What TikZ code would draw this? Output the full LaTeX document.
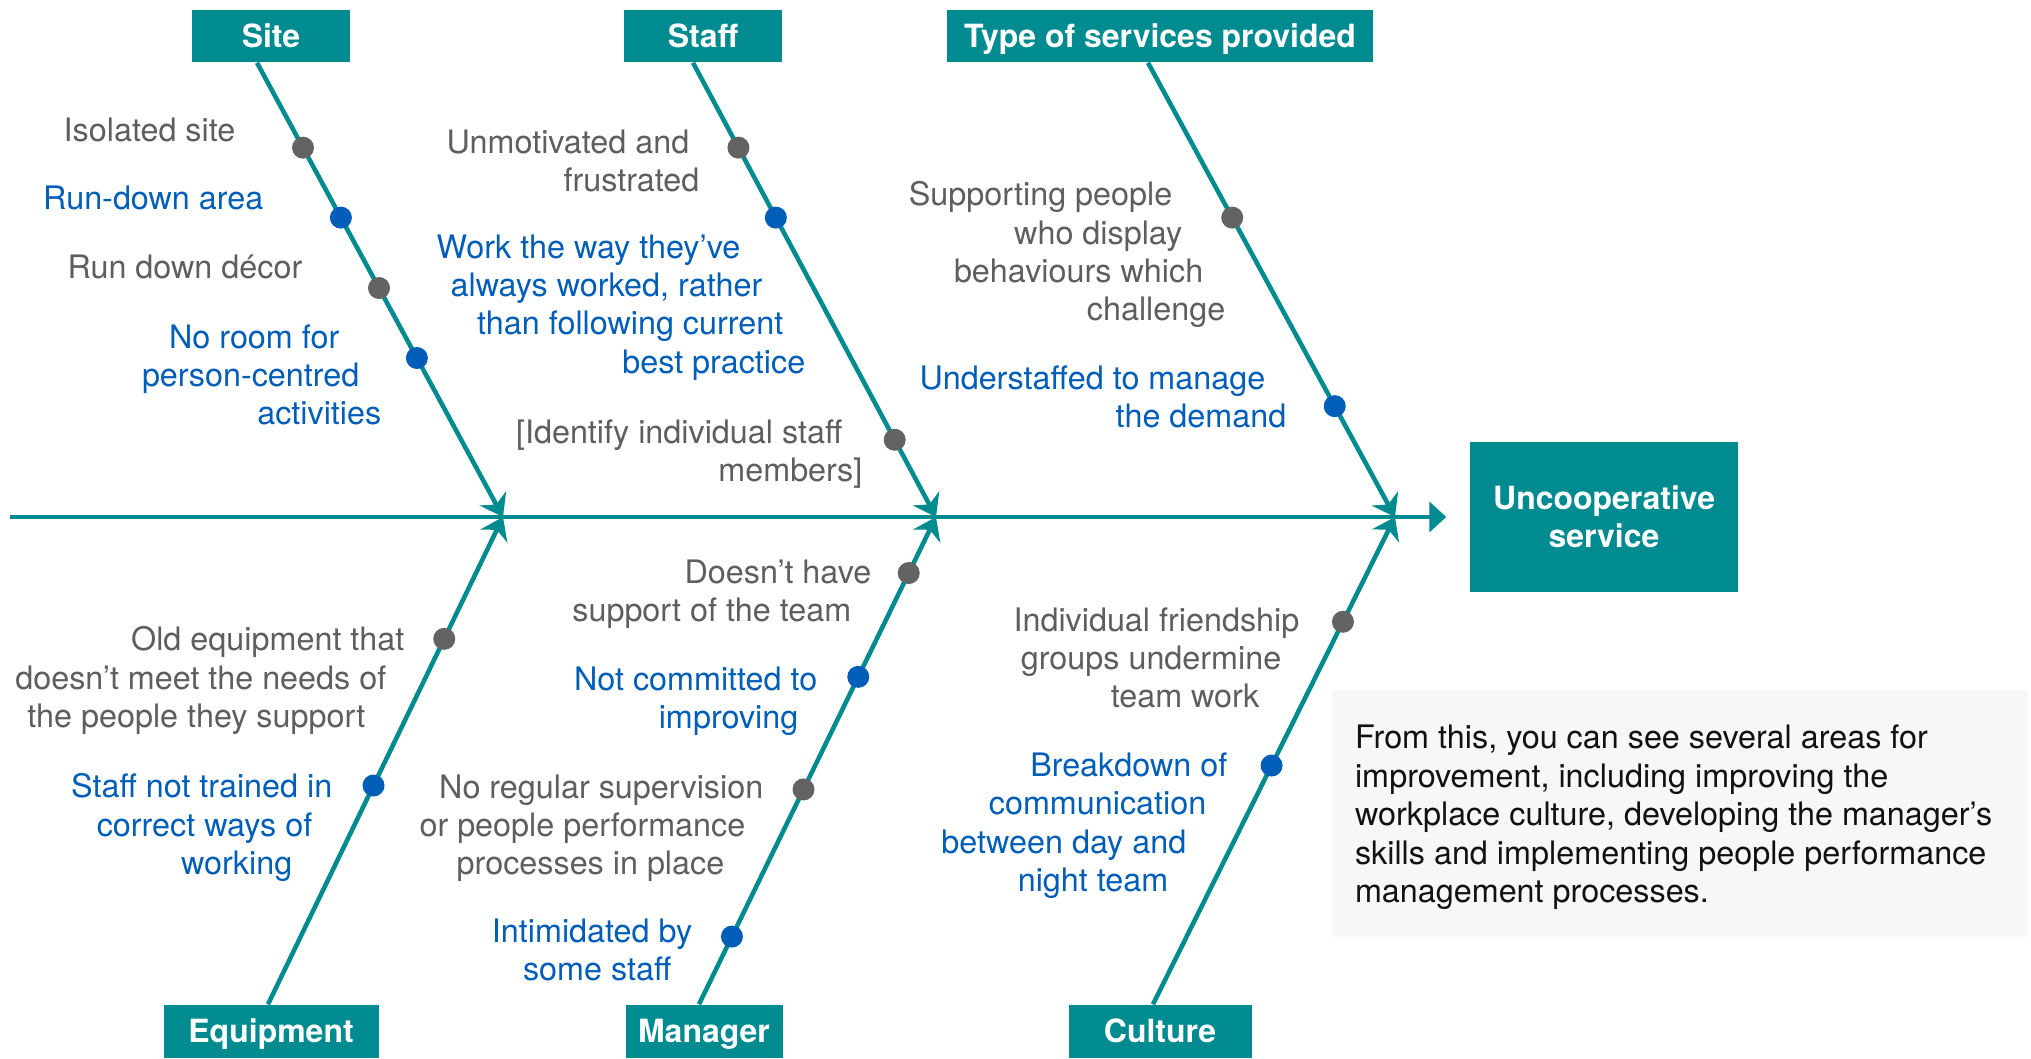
\documentclass[tikz,border=0pt]{standalone}
\usepackage{fontspec}
\setmainfont{TeX Gyre Heros}
\usepackage{tikz}
\usetikzlibrary{arrows.meta,calc}
\definecolor{fishteal}{HTML}{008B90}
\definecolor{causegray}{HTML}{5E5E5E}
\definecolor{causeblue}{HTML}{005EB8}
\definecolor{dotgray}{HTML}{636363}
\definecolor{notefill}{HTML}{F7F7F7}
\definecolor{noteink}{HTML}{111111}

\begin{document}
\begin{tikzpicture}[
  catbox/.style={fill=fishteal,text=white,inner sep=0pt,minimum height=0.52cm,
    font=\fontsize{9.1}{10.9}\selectfont\bfseries},
  cathead/.style={catbox,text height=6.5pt,text depth=0pt},
  bone/.style={fishteal,line width=1.3pt,-{Stealth[length=6pt,width=8.5pt]}},
  cause/.style={align=right,anchor=north east,inner sep=0pt,
    font=\fontsize{9.2}{10.9}\selectfont}
]
  \useasboundingbox (0,0) rectangle (20.31,10.58);
  % categories
  \node[cathead,minimum width=1.58cm] (site) at (2.71,10.22) {Site};
  \node[cathead,minimum width=1.58cm] (staff) at (7.03,10.22) {Staff};
  \node[cathead,minimum width=4.26cm] (type) at (11.60,10.22) {Type of services provided};
  \node[cathead,minimum width=2.15cm,minimum height=0.53cm] (equip) at (2.71,0.265) {Equipment};
  \node[cathead,minimum width=1.57cm,minimum height=0.53cm] (manager) at (7.04,0.265) {Manager};
  \node[cathead,minimum width=1.83cm,minimum height=0.53cm] (culture) at (11.60,0.265) {Culture};
  % effect
  \node[catbox,align=center,minimum width=2.68cm,minimum height=1.50cm] (effect) at (16.04,5.41) {Uncooperative\\service};
  % spine
  \coordinate (tail) at (0.10,5.41);
  \coordinate (j1) at (5.03,5.41);
  \coordinate (j2) at (9.36,5.41);
  \coordinate (j3) at (13.95,5.41);
  \draw[fishteal,line width=1.3pt,-{Triangle[length=0.17cm,width=0.30cm]}] (tail) -- ([xshift=-0.23cm]effect.west);
  % bones
  \coordinate (b1) at ([xshift=-0.14cm]site.south);
  \coordinate (b2) at ([xshift=-0.10cm]staff.south);
  \coordinate (b3) at ([xshift=-0.12cm]type.south);
  \coordinate (b4) at ([xshift=-0.03cm]equip.north);
  \coordinate (b5) at ([xshift=-0.05cm]manager.north);
  \coordinate (b6) at ([xshift=-0.07cm]culture.north);
  \foreach \b/\j in {b1/j1,b2/j2,b3/j3,b4/j1,b5/j2,b6/j3}
    \draw[bone] (\b) -- (\j);
  % dots on the bones
  \foreach \b/\j/\p/\c in {b1/j1/0.187/dotgray, b1/j1/0.341/causeblue, b1/j1/0.496/dotgray, b1/j1/0.650/causeblue,
      b2/j2/0.187/dotgray, b2/j2/0.341/causeblue, b2/j2/0.830/dotgray,
      b3/j3/0.341/dotgray, b3/j3/0.756/causeblue,
      b4/j1/0.449/causeblue, b4/j1/0.750/dotgray,
      b5/j2/0.139/causeblue, b5/j2/0.441/dotgray, b5/j2/0.672/causeblue, b5/j2/0.885/dotgray,
      b6/j3/0.490/causeblue, b6/j3/0.785/dotgray}
    \fill[\c] ($(\b)!\p!(\j)$) circle (0.11);
  % causes
  \foreach \nm/\x/\y/\col/\txt in {
      iso/2.36/9.41/causegray/{Isolated site},
      rundown/2.64/8.73/causeblue/{Run-down area},
      decor/3.03/8.04/causegray/{Run down décor},
      noroom/3.82/7.34/causeblue/{No room for\kern0.42cm\\person-centred\kern0.22cm\\activities},
      unmot/7.00/9.29/causegray/{Unmotivated and\kern0.10cm\\frustrated},
      waywork/8.06/8.24/causeblue/{Work the way they’ve\kern0.65cm\\always worked, rather\kern0.43cm\\than following current\kern0.22cm\\best practice},
      identify/8.63/6.39/causegray/{[Identify individual staff\kern0.20cm\\members]},
      supporting/12.26/8.77/causegray/{Supporting people\kern0.53cm\\who display\kern0.43cm\\behaviours which\kern0.22cm\\challenge},
      understaffed/12.87/6.93/causeblue/{Understaffed to manage\kern0.21cm\\the demand},
      oldequip/4.05/4.32/causegray/{Old equipment that\\doesn’t meet the needs of\kern0.18cm\\the people they support\kern0.39cm},
      untrained/3.33/2.85/causeblue/{Staff not trained in\\correct ways of\kern0.20cm\\working\kern0.40cm},
      teamsupport/8.72/4.99/causegray/{Doesn’t have\\support of the team\kern0.20cm},
      notcomm/8.18/3.92/causeblue/{Not committed to\\improving\kern0.19cm},
      noregular/7.64/2.84/causegray/{No regular supervision\\or people performance\kern0.18cm\\processes in place\kern0.39cm},
      intimid/6.93/1.40/causeblue/{Intimidated by\\some staff\kern0.21cm},
      friendship/13.00/4.51/causegray/{Individual friendship\\groups undermine\kern0.18cm\\team work\kern0.40cm},
      breakdown/12.28/3.06/causeblue/{Breakdown of\\communication\kern0.21cm\\between day and\kern0.41cm\\night team\kern0.59cm}}
    \node[cause,text=\col] (\nm) at (\x,\y) {\txt};
  % summary note
  \node[fill=notefill,inner sep=0pt,minimum width=6.96cm,minimum height=2.47cm] (note) at (16.80,2.445) {};
  \node[anchor=west,align=left,inner sep=0pt,text=noteink,font=\fontsize{9.2}{10.95}\selectfont] (notetext) at ([xshift=0.23cm,yshift=-0.04cm]note.west)
    {From this, you can see several areas for\\improvement, including improving the\\workplace culture, developing the manager’s\\skills and implementing people performance\\management processes.};
\end{tikzpicture}
\end{document}
